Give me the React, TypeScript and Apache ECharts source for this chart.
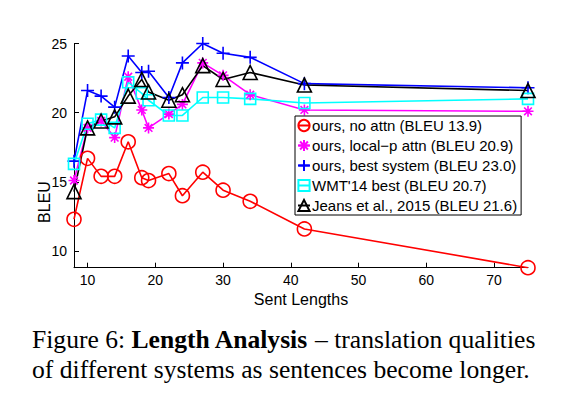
import React, { useEffect, useRef } from "react";
import * as echarts from "echarts";

const lengths = [8, 10, 12, 14, 16, 18, 19, 22, 24, 27, 30, 34, 42, 75];
const noAttn = [12.3, 16.7, 15.4, 15.4, 17.9, 15.3, 15.1, 15.6, 14.0, 15.7, 14.4, 13.6, 11.6, 8.8];
const localP = [15.1, 18.9, 19.4, 18.2, 22.6, 20.2, 18.9, 19.9, 20.6, 23.6, 22.7, 21.3, 20.2, 20.1];
const bestSys = [16.5, 21.6, 21.2, 20.4, 24.1, 22.9, 23.0, 21.1, 23.6, 25.0, 24.3, 24.0, 22.1, 21.8];
const wmt14 = [16.3, 19.2, 19.5, 18.9, 22.2, 21.4, 20.9, 19.8, 19.8, 21.1, 21.1, 21.0, 20.7, 21.0];
const jeans = [14.3, 18.9, 19.4, 19.7, 21.2, 22.4, 21.5, 20.9, 21.3, 23.4, 22.4, 22.9, 22.0, 21.6];

const seriesNames = [
  "ours, no attn (BLEU 13.9)",
  "ours, local\u2212p attn (BLEU 20.9)",
  "ours, best system (BLEU 23.0)",
  "WMT'14 best (BLEU 20.7)",
  "Jeans et al., 2015 (BLEU 21.6)",
];
const xTicks = [10, 20, 30, 40, 50, 60, 70];
const yTicks = [10, 15, 20, 25];

const STAR = "path://M5,0L5,10M0,5L10,5M1.5,1.5L8.5,8.5M1.5,8.5L8.5,1.5";
const PLUS = "path://M5,0L5,10M0,5L10,5";

function mk(name: string, vals: number[], color: string, symbol: string, size: number) {
  return {
    name,
    type: "line",
    data: lengths.map((x, i) => [x, vals[i]]),
    symbol,
    symbolSize: size,
    showAllSymbol: true,
    lineStyle: { color, width: 1.6 },
    itemStyle: { color: "transparent", borderColor: color, borderWidth: 1.6 },
    emphasis: { disabled: true },
  };
}

export default function App() {
  const ref = useRef<HTMLDivElement>(null);
  useEffect(() => {
    const chart = echarts.init(ref.current!, null, { renderer: "svg" });
    const font = "Liberation Sans, Arial, sans-serif";
    const serif = "Liberation Serif, Times New Roman, serif";
    chart.setOption({
      animation: false,
      backgroundColor: "#fff",
      grid: { left: 74, right: 36, top: 43.5, bottom: 131.3 },
      xAxis: {
        type: "value",
        min: 8,
        max: 75,
        name: "Sent Lengths",
        nameLocation: "middle",
        nameGap: 17,
        nameTextStyle: { color: "#000", fontSize: 16, fontFamily: font },
        axisLine: { lineStyle: { color: "#000", width: 1 } },
        axisTick: { inside: true, length: 5, customValues: xTicks, lineStyle: { color: "#000" } },
        axisLabel: { customValues: xTicks, color: "#000", fontSize: 14, fontFamily: font, margin: 5 },
        splitLine: { show: false },
      },
      yAxis: {
        type: "value",
        min: 8.8,
        max: 25.0,
        axisLine: { show: true, lineStyle: { color: "#000", width: 1 } },
        axisTick: { show: true, inside: true, length: 5, customValues: yTicks, lineStyle: { color: "#000" } },
        axisLabel: { customValues: yTicks, color: "#000", fontSize: 14, fontFamily: font, margin: 7 },
        splitLine: { show: false },
      },
      legend: {
        orient: "vertical",
        left: 295,
        top: 116,
        backgroundColor: "#fff",
        borderColor: "#000",
        borderWidth: 1,
        borderRadius: 0,
        padding: [2, 4, 2, 2],
        itemGap: 5,
        itemWidth: 12,
        itemHeight: 14,
        textStyle: { color: "#000", fontSize: 15, fontFamily: font, padding: [0, 0, 0, -3] },
        data: seriesNames,
      },
      series: [
        mk(seriesNames[0], noAttn, "#ff0000", "circle", 14),
        mk(seriesNames[1], localP, "#ff00ff", STAR, 11),
        mk(seriesNames[2], bestSys, "#0000ff", PLUS, 13),
        mk(seriesNames[3], wmt14, "#00ffff", "rect", 11),
        mk(seriesNames[4], jeans, "#000000", "triangle", 14),
      ],
      graphic: [
        {
          type: "text",
          x: 44,
          y: 202,
          rotation: Math.PI / 2,
          style: {
            text: "BLEU",
            align: "center",
            verticalAlign: "middle",
            fontFamily: font,
            fontSize: 16,
            fill: "#000",
          },
        },
        {
          type: "text",
          left: 32,
          top: 326,
          style: {
            text: "{a|Figure 6: }{b|Length Analysis}{a| \u2013 translation qualities}",
            rich: {
              a: { fontFamily: serif, fontSize: 25.6, fill: "#000" },
              b: { fontFamily: serif, fontSize: 25.6, fontWeight: "bold", fill: "#000" },
            },
          },
        },
        {
          type: "text",
          left: 32,
          top: 356,
          style: {
            text: "of different systems as sentences become longer.",
            fontFamily: serif,
            fontSize: 25.6,
            fill: "#000",
          },
        },
      ],
    });
    return () => chart.dispose();
  }, []);
  return <div ref={ref} style={{ width: 564, height: 399, position: "absolute", left: 0, top: 0 }} />;
}
